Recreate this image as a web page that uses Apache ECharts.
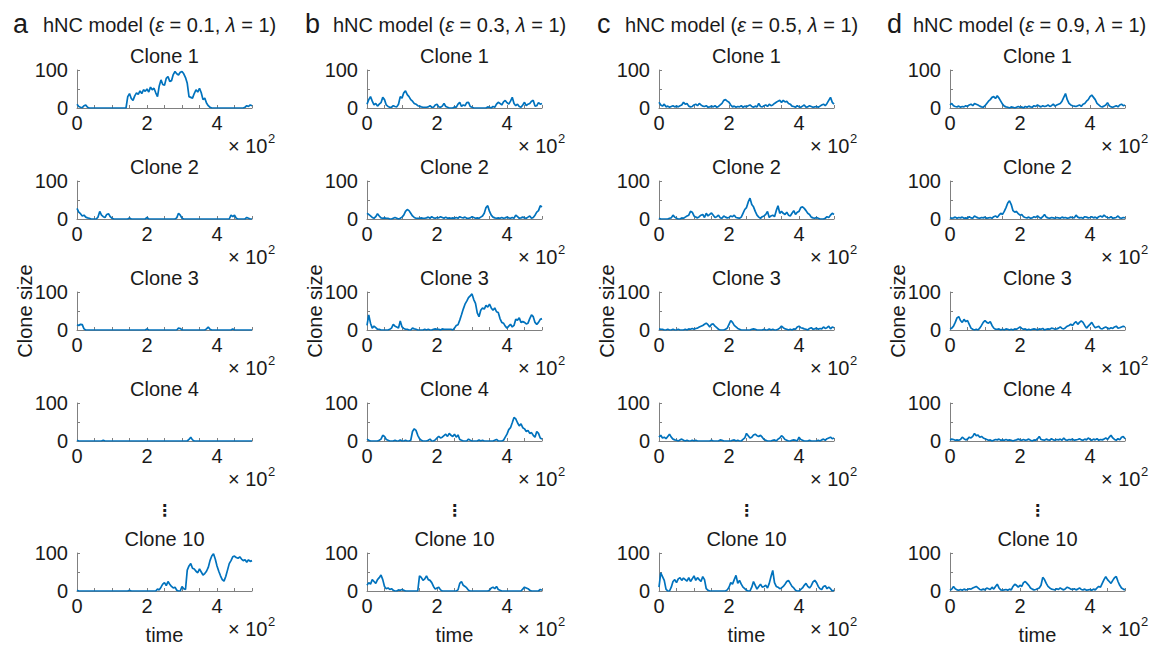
<!DOCTYPE html>
<html>
<head>
<meta charset="utf-8">
<script src="https://cdn.jsdelivr.net/npm/echarts@6/dist/echarts.min.js"></script>
<style>html,body{margin:0;padding:0;background:#fff}#chart{width:1167px;height:646px}</style>
</head>
<body>
<div id="chart"></div>
<script>
// Sample times
const T = [0,5,10,15,20,25,30,35,40,45,50,55,60,65,70,75,80,85,90,95,
100,105,110,115,120,125,130,135,140,145,150,155,160,165,170,175,180,185,190,195,
200,205,210,215,220,225,230,235,240,245,250,255,260,265,270,275,280,285,290,295,
300,305,310,315,320,325,330,335,340,345,350,355,360,365,370,375,380,385,390,395,
400,405,410,415,420,425,430,435,440,445,450,455,460,465,470,475,480,485,490,495,500];

const panelLetters = ['a','b','c','d'];
const epsilons = ['0.1','0.3','0.5','0.9'];
const lambdaValue = '1';
const cloneTitles = ['Clone 1','Clone 2','Clone 3','Clone 4','Clone 10'];
const xTickLabels = {0:'0',200:'2',400:'4'};
const yTickLabels = {0:'0',100:'100'};

// Column a (eps = 0.1)
const a1 = [10,4,2,1,6,8,2,0,0,0, 0,0,0,0,0,0,0,0,0,0, 0,0,0,0,0,0,0,0,0,30,
 38,25,20,32,40,36,45,38,48,44, 50,42,55,48,52,40,30,58,74,62, 60,78,83,70,72,88,96,90,87,94,
 96,90,80,65,30,28,26,38,48,42, 52,40,22,26,13,6,2,0,0,0, 0,0,0,0,0,0,0,0,0,0, 0,0,0,0,0,0,2,6,4,8, 6];
const a2 = [28,18,14,8,10,5,3,2,0,0, 0,0,5,20,10,6,4,12,14,6, 2,0,0,0,0,0,0,0,0,0,
 3,0,0,0,0,0,0,0,0,0, 4,0,0,0,0,0,0,0,0,0, 0,0,0,0,0,0,0,3,15,10,
 2,0,0,0,0,0,0,0,0,0, 0,0,0,0,0,0,0,0,0,0, 0,0,0,0,0,0,0,0,10,6, 10,2,0,0,0,0,0,4,2,0, 0];
const a3 = [14,12,15,14,3,0,0,0,0,0, 0,0,0,0,0,0,0,0,0,0, 0,0,0,0,0,0,0,0,0,0,
 0,0,0,0,0,0,0,0,0,0, 3,0,0,0,0,0,0,0,0,0, 0,0,0,0,0,0,0,0,5,4,
 0,0,0,0,0,0,0,0,0,0, 0,0,0,0,3,8,2,0,0,0, 0,0,0,0,0,0,0,0,0,3, 0,0,0,0,0,0,0,0,0,0, 0];
const a4 = [2,0,0,0,0,0,0,0,0,0, 0,0,0,0,0,2,0,0,0,0, 0,0,0,0,0,0,0,0,0,0,
 0,0,0,0,0,0,0,0,0,0, 0,0,0,0,0,0,0,0,0,0, 0,0,0,0,0,0,0,0,0,0,
 0,0,0,0,4,10,3,0,0,0, 0,0,0,0,0,0,0,0,0,0, 0,0,0,0,0,0,0,0,0,0, 0,0,0,0,0,0,0,0,0,0, 0];
const a10 = [2,0,0,0,0,0,0,0,0,0, 0,0,0,0,0,0,0,0,0,0, 0,0,0,0,0,0,0,0,0,0,
 2,0,0,0,0,0,0,0,0,0, 0,0,0,0,0,0,5,3,10,18, 22,14,25,18,12,8,10,2,0,0,
 12,6,4,55,66,72,60,58,52,48, 58,50,42,46,52,62,80,92,98,84, 66,52,40,30,26,38,55,72,80,90,
 92,88,86,90,84,80,82,76,82,78, 80];

// Column b (eps = 0.3)
const b1 = [10,22,30,18,8,12,5,10,14,28, 22,8,4,2,2,6,4,3,10,30, 26,40,45,35,30,22,18,12,10,6,
 5,3,2,2,2,3,6,2,2,8, 10,3,2,5,12,4,2,0,0,0, 3,2,10,15,4,8,6,14,15,4,
 2,0,0,0,0,0,0,0,0,3, 2,0,4,2,10,15,12,8,16,20, 14,10,18,28,12,6,10,4,2,8,
 15,6,10,12,18,20,5,6,14,10, 12];
const b2 = [15,12,8,4,2,6,14,8,3,2, 3,2,2,0,0,2,4,2,0,2, 5,10,20,25,22,15,8,4,2,2,
 2,3,2,2,3,5,2,6,3,2, 4,3,6,4,2,5,2,3,2,3, 2,4,2,6,4,3,5,2,2,3,
 6,4,2,3,2,5,8,15,30,35, 20,10,5,3,2,3,2,4,2,3, 5,3,2,4,2,10,6,2,3,5,
 3,2,5,8,2,4,10,18,22,35, 32];
const b3 = [12,40,18,5,10,6,2,2,0,0, 0,0,0,2,5,15,10,8,5,24, 8,4,2,2,0,0,5,3,2,0,
 0,0,0,2,0,2,0,0,2,3, 2,2,0,3,2,2,2,2,2,0, 5,12,14,26,40,55,68,76,85,90,
 95,80,70,45,35,52,58,55,65,60, 68,58,52,58,48,46,30,20,18,10, 5,10,15,8,12,28,26,32,20,22,
 20,16,18,30,40,35,20,15,20,28, 30];
const b4 = [5,2,0,0,0,0,0,2,5,15, 12,4,2,0,0,0,2,0,0,3, 0,0,2,0,0,2,25,32,28,15,
 6,2,0,0,0,2,5,0,0,3, 8,12,8,10,14,18,12,20,15,12, 18,10,16,4,2,0,0,0,5,2,
 0,0,0,0,3,0,2,0,0,0, 0,0,0,2,4,0,0,0,2,10, 18,30,35,48,62,58,48,40,45,35,
 32,25,28,20,22,15,10,25,20,8, 5];
const b10 = [15,22,18,30,25,20,30,35,42,30, 12,6,8,4,6,2,0,0,3,2, 4,2,0,0,0,0,0,0,0,0,
 40,36,28,32,40,30,28,22,12,5, 8,10,3,0,0,0,0,0,0,0, 0,0,3,20,25,15,12,8,2,0,
 0,0,0,0,0,0,0,0,0,0, 2,8,10,6,12,4,2,0,0,0, 0,0,0,0,0,0,0,0,0,5,
 10,8,6,2,0,0,0,0,0,4, 2];

// Column c (eps = 0.5)
const c1 = [15,8,5,10,3,5,2,4,6,3, 5,3,6,8,15,10,12,5,3,4, 8,10,6,12,8,5,4,6,2,3,
 5,3,6,2,4,8,12,20,22,18, 15,8,3,5,2,4,3,6,2,5, 3,6,8,4,2,5,3,12,4,3,
 6,8,4,10,6,8,12,15,18,20, 15,20,16,18,12,10,5,4,2,6, 3,2,5,8,2,3,6,4,2,3,
 4,2,5,8,10,6,12,20,28,15, 10];
const c2 = [2,0,0,0,0,0,2,3,10,5, 2,0,0,3,2,5,8,10,20,18, 8,5,3,6,10,12,4,15,8,12,
 16,10,4,6,10,3,2,8,5,3, 4,8,6,10,4,3,2,5,15,25, 30,45,55,38,32,20,10,5,2,6,
 8,12,20,4,8,10,6,22,35,15, 20,15,12,18,10,8,15,22,12,18, 20,30,32,28,22,15,12,5,3,2,
 4,2,0,0,0,2,6,4,10,15, 12];
const c3 = [3,2,2,0,0,2,0,0,2,0, 0,2,0,0,0,2,0,3,2,4, 2,4,5,8,10,12,15,18,14,8,
 15,16,10,6,2,0,0,0,2,5, 15,25,20,12,8,4,2,0,0,0, 0,0,0,2,3,2,0,0,0,0,
 2,0,0,3,0,2,0,0,2,5, 10,6,3,2,0,2,0,3,2,8, 10,6,5,3,2,0,4,6,2,3,
 5,2,4,3,8,4,6,10,3,8, 6];
const c4 = [10,15,8,10,6,12,18,10,5,3, 2,0,3,5,2,0,2,0,0,2, 0,2,0,0,0,0,0,0,0,0,
 2,0,0,0,0,3,2,0,0,0, 0,0,2,3,0,2,0,0,4,8, 20,14,8,10,16,18,14,12,15,10,
 4,2,0,0,0,2,3,0,5,8, 14,10,4,2,0,0,2,3,2,0, 10,4,2,0,0,0,2,0,0,0,
 0,2,0,3,5,2,6,8,10,6, 8];
const c10 = [10,48,38,28,5,0,0,10,25,30, 22,32,35,28,34,30,26,35,25,32, 40,28,35,30,25,38,30,6,2,0,
 0,0,0,0,0,0,0,0,0,3, 10,22,18,30,41,20,28,18,10,6, 2,0,0,10,25,15,5,12,18,10,
 12,15,8,20,38,54,22,12,10,6, 8,12,18,25,28,20,12,8,2,0, 0,4,8,15,20,12,8,14,24,28,
 22,12,6,4,12,14,6,10,6,0, 2];

// Column d (eps = 0.9)
const d1 = [8,12,6,4,3,5,2,4,3,6, 4,8,10,6,12,10,8,5,3,2, 6,12,18,22,28,30,25,32,26,18,
 10,5,3,2,0,3,2,0,2,4, 2,3,0,4,2,5,3,2,6,4, 8,5,3,6,4,5,8,4,6,10,
 5,8,10,12,18,28,38,22,12,8, 6,5,4,6,8,4,10,12,18,22, 30,34,28,22,12,8,4,3,5,8,
 14,6,3,2,4,6,3,8,10,6, 8];
const d2 = [4,2,3,5,2,4,3,5,2,3, 2,6,3,2,8,5,3,2,4,3, 5,2,3,4,2,6,8,4,10,15,
 12,20,30,42,48,38,22,18,20,14, 10,12,6,4,3,5,2,3,6,4, 8,4,2,6,12,5,3,2,4,3,
 2,4,3,2,5,3,4,2,3,5, 4,3,10,5,3,4,2,6,5,3, 4,6,3,5,2,6,8,5,10,6,
 4,3,6,2,3,4,8,3,2,4, 3];
const d3 = [3,5,10,20,32,35,25,20,28,22, 25,15,5,2,0,2,0,5,12,20, 25,20,18,22,12,5,2,2,3,0,
 2,0,3,2,0,2,0,3,2,5, 8,4,2,3,0,2,0,2,3,2, 0,3,2,4,0,2,3,2,5,4,
 2,3,5,8,4,3,6,10,12,15, 12,18,22,15,20,24,20,12,5,10, 15,20,12,6,8,10,4,3,6,8,
 5,3,6,4,8,10,5,6,8,10, 8];
const d4 = [3,5,4,2,3,2,4,10,6,3, 5,10,8,12,20,14,16,10,12,8, 6,4,2,3,0,2,4,3,5,2,
 3,2,4,2,3,2,0,2,3,5, 3,2,4,2,3,5,2,0,3,2, 6,12,4,3,2,5,3,2,6,3,
 2,4,3,5,2,8,3,2,4,3, 5,2,3,4,6,3,2,5,3,8, 4,2,5,3,6,2,4,3,5,8,
 4,10,15,8,4,2,6,3,10,12, 6];
const d10 = [2,5,12,6,3,2,4,2,5,3, 4,6,5,8,10,12,8,4,3,5, 3,8,6,4,10,5,12,18,8,3,
 2,3,4,2,5,3,12,18,15,10, 15,12,22,25,20,15,8,5,3,4, 6,8,15,36,30,20,12,8,5,4,
 3,6,4,8,5,3,6,10,8,5, 4,6,3,5,8,4,3,5,2,3, 4,2,5,3,8,12,10,20,30,38,
 30,25,20,28,35,38,25,15,8,5, 3];

const seriesByColumn = [
  [a1,a2,a3,a4,a10],
  [b1,b2,b3,b4,b10],
  [c1,c2,c3,c4,c10],
  [d1,d2,d3,d4,d10]
];

// Layout (pixels)
const colLeft = [77, 367, 659, 950];
const plotW = 175;
const rowTop = [70, 181, 292, 403, 553];
const plotH = 38;
const letterX = [13, 305, 597, 887];
const headX = [43, 333, 625, 913];
const ylabelX = [25, 315, 607, 898];

const FONT = "'Liberation Sans', Arial, sans-serif";
const TXT = '#1a1a1a';
const AXC = '#808080';
const LINE = '#0072BD';

const grids = [], xAxes = [], yAxes = [], series = [], graphics = [];
let gi = 0;
for (let c = 0; c < 4; c++) {
  graphics.push({type:'text', x:letterX[c], y:24, style:{text:panelLetters[c], font:'27px ' + FONT, fill:TXT, textAlign:'left', textVerticalAlign:'middle'}});
  graphics.push({type:'text', x:headX[c], y:25, style:{
    text:'hNC model ({i|ε} = ' + epsilons[c] + ', {i|λ} = ' + lambdaValue + ')',
    font:'20px ' + FONT, fill:TXT, textAlign:'left', textVerticalAlign:'middle',
    rich:{i:{fontStyle:'italic', fontSize:20, fontFamily:FONT, fill:TXT}}
  }});
  for (let r = 0; r < 5; r++) {
    const L = colLeft[c], Tp = rowTop[r];
    grids.push({left:L, top:Tp, width:plotW, height:plotH, containLabel:false});
    xAxes.push({
      gridIndex:gi, type:'value', min:0, max:500, interval:50,
      axisLine:{show:true, onZero:false, lineStyle:{color:AXC, width:1}},
      axisTick:{show:true, inside:true, length:3, lineStyle:{color:AXC, width:1}},
      axisLabel:{show:true, margin:5, color:TXT, fontSize:20, fontFamily:FONT,
        formatter:v => (xTickLabels[v] !== undefined ? xTickLabels[v] : '')},
      splitLine:{show:false}
    });
    yAxes.push({
      gridIndex:gi, type:'value', min:0, max:100, interval:50,
      axisLine:{show:true, lineStyle:{color:AXC, width:1}},
      axisTick:{show:true, inside:true, length:3, lineStyle:{color:AXC, width:1}},
      axisLabel:{show:true, margin:9, color:TXT, fontSize:20, fontFamily:FONT,
        formatter:v => (yTickLabels[v] !== undefined ? yTickLabels[v] : '')},
      splitLine:{show:false}
    });
    const vals = seriesByColumn[c][r];
    series.push({
      type:'line', xAxisIndex:gi, yAxisIndex:gi, showSymbol:false, symbol:'none',
      data:T.map((t,k) => [t, vals[k]]),
      lineStyle:{color:LINE, width:1.7}, itemStyle:{color:LINE}, animation:false, silent:true
    });
    graphics.push({type:'text', x:L + plotW/2, y:Tp - 14, style:{text:cloneTitles[r], font:'20px ' + FONT, fill:TXT, textAlign:'center', textVerticalAlign:'middle'}});
    graphics.push({type:'text', x:L + plotW - 24, y:Tp + plotH + 38, style:{text:'× 10', font:'20px ' + FONT, fill:TXT, textAlign:'left', textVerticalAlign:'middle'}});
    graphics.push({type:'text', x:L + plotW + 16, y:Tp + plotH + 30, style:{text:'2', font:'13px ' + FONT, fill:TXT, textAlign:'left', textVerticalAlign:'middle'}});
    gi++;
  }
  graphics.push({type:'text', x:ylabelX[c], y:rowTop[2] + plotH/2, rotation:Math.PI/2,
    style:{text:'Clone size', font:'20px ' + FONT, fill:TXT, textAlign:'center', textVerticalAlign:'middle'}});
  graphics.push({type:'text', x:colLeft[c] + plotW/2, y:rowTop[4] + plotH + 44,
    style:{text:'time', font:'20px ' + FONT, fill:TXT, textAlign:'center', textVerticalAlign:'middle'}});
  graphics.push({type:'text', x:colLeft[c] + plotW/2, y:510,
    style:{text:'⋮', font:'bold 16px DejaVu Sans', fill:TXT, textAlign:'center', textVerticalAlign:'middle'}});
}

const chart = echarts.init(document.getElementById('chart'), null, {renderer:'svg'});
chart.setOption({
  backgroundColor:'#ffffff',
  animation:false,
  grid:grids, xAxis:xAxes, yAxis:yAxes, series:series,
  graphic:graphics
});
</script>
</body>
</html>
